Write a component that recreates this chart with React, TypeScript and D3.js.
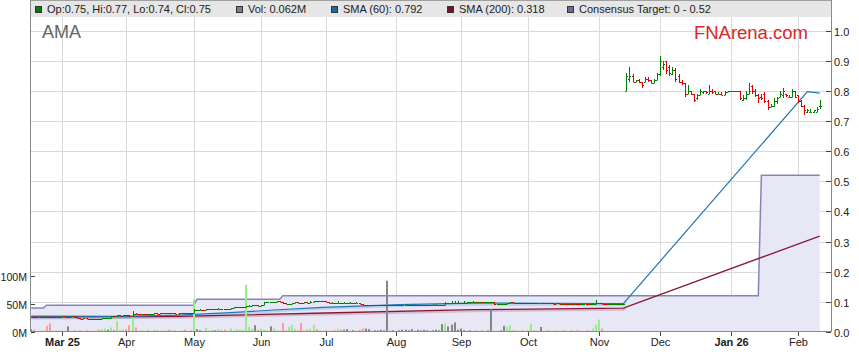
import React from "react";
import * as d3 from "d3";

const START_DATE = "2025-02-17";

// [open, high, low, close] per trading day
const ohlc: [number, number, number, number][] = [
  [.051,.051,.051,.051],[.051,.051,.050,.050],[.050,.051,.050,.051],[.051,.051,.051,.051],[.051,.052,.051,.051],
  [.051,.051,.050,.050],[.050,.050,.049,.049],[.049,.050,.049,.050],[.050,.051,.050,.051],[.051,.051,.051,.051],
  [.051,.052,.051,.052],[.052,.052,.051,.051],[.051,.051,.051,.051],[.051,.052,.051,.052],[.052,.052,.050,.050],
  [.050,.050,.046,.046],[.046,.046,.044,.044],[.044,.045,.044,.045],[.045,.045,.043,.043],[.043,.044,.043,.044],
  [.044,.044,.042,.043],[.043,.044,.043,.044],[.044,.044,.043,.043],[.043,.045,.043,.045],[.045,.047,.045,.047],
  [.047,.048,.046,.047],[.047,.053,.047,.053],[.053,.054,.052,.052],[.052,.055,.052,.055],[.055,.055,.054,.054],
  [.054,.056,.054,.056],[.056,.056,.054,.055],[.055,.055,.054,.054],[.054,.068,.054,.061],[.061,.062,.059,.060],
  [.060,.060,.059,.059],[.059,.060,.059,.060],[.060,.060,.059,.059],[.059,.060,.059,.060],[.060,.060,.060,.060],
  [.060,.063,.060,.062],[.062,.062,.061,.061],[.061,.062,.061,.062],[.062,.062,.062,.062],[.062,.063,.062,.063],
  [.063,.063,.062,.062],[.062,.063,.062,.063],[.063,.063,.061,.061],[.061,.062,.061,.062],[.062,.063,.062,.063],
  [.063,.063,.062,.062],[.062,.063,.062,.063],[.063,.063,.062,.062],[.062,.075,.062,.074],[.074,.074,.073,.074],
  [.074,.075,.074,.074],[.074,.074,.073,.073],[.073,.075,.073,.075],[.075,.075,.075,.075],[.075,.076,.075,.076],
  [.076,.076,.075,.076],[.076,.078,.076,.077],[.077,.077,.076,.076],[.076,.076,.075,.075],[.075,.077,.075,.077],
  [.077,.078,.077,.078],[.078,.082,.078,.082],[.082,.083,.082,.083],[.083,.084,.083,.084],[.084,.084,.082,.082],
  [.082,.087,.082,.086],[.086,.088,.086,.087],[.087,.089,.087,.088],[.088,.088,.088,.088],[.088,.088,.086,.086],
  [.086,.090,.086,.089],[.089,.099,.089,.098],[.098,.100,.098,.100],[.100,.100,.100,.100],[.100,.101,.100,.101],
  [.101,.102,.101,.102],[.102,.102,.101,.101],[.101,.101,.094,.095],[.095,.095,.093,.093],[.093,.094,.093,.094],
  [.094,.097,.094,.097],[.097,.098,.097,.098],[.098,.098,.096,.096],[.096,.096,.095,.095],[.095,.098,.095,.098],
  [.098,.098,.097,.097],[.097,.102,.097,.101],[.101,.103,.101,.103],[.103,.103,.102,.102],[.102,.104,.102,.103],
  [.103,.103,.102,.102],[.102,.102,.100,.100],[.100,.100,.097,.097],[.097,.098,.097,.097],[.097,.097,.096,.096],
  [.096,.102,.096,.097],[.097,.097,.096,.096],[.096,.100,.096,.096],[.096,.096,.096,.096],[.096,.100,.096,.096],
  [.096,.096,.096,.096],[.096,.099,.096,.096],[.096,.096,.092,.092],[.092,.092,.088,.088],[.088,.088,.088,.088],
  [.088,.088,.088,.088],[.088,.088,.088,.088],[.088,.088,.088,.088],[.088,.088,.088,.088],[.088,.088,.088,.088],
  [.088,.088,.088,.088],[.088,.088,.088,.088],[.088,.088,.088,.088],[.088,.088,.088,.088],[.088,.088,.088,.088],
  [.088,.088,.088,.088],[.088,.088,.088,.088],[.088,.092,.088,.088],[.088,.088,.088,.088],[.088,.088,.088,.088],
  [.088,.088,.088,.088],[.088,.088,.088,.088],[.088,.088,.088,.088],[.088,.088,.088,.088],[.088,.088,.088,.088],
  [.088,.088,.088,.088],[.088,.092,.088,.088],[.088,.092,.088,.088],[.088,.088,.088,.088],[.088,.088,.088,.088],
  [.088,.098,.088,.097],[.097,.097,.097,.097],[.097,.104,.097,.097],[.097,.104,.097,.097],[.097,.104,.097,.097],
  [.097,.097,.097,.097],[.097,.104,.097,.097],[.097,.100,.097,.100],[.100,.101,.100,.100],[.100,.102,.100,.101],
  [.101,.101,.100,.100],[.100,.101,.100,.101],[.101,.101,.099,.099],[.099,.100,.099,.100],[.100,.100,.100,.100],
  [.100,.100,.100,.100],[.100,.100,.091,.092],[.092,.094,.092,.094],[.094,.094,.094,.094],[.094,.094,.094,.094],
  [.094,.096,.094,.095],[.095,.098,.095,.098],[.098,.098,.097,.097],[.097,.097,.096,.096],[.096,.097,.096,.096],
  [.096,.096,.095,.095],[.095,.096,.095,.096],[.096,.096,.095,.095],[.095,.097,.095,.096],[.096,.096,.095,.095],
  [.095,.096,.095,.095],[.095,.095,.095,.095],[.095,.096,.095,.096],[.096,.096,.095,.095],[.095,.096,.095,.096],
  [.096,.096,.094,.094],[.094,.095,.094,.095],[.095,.095,.093,.093],[.093,.094,.093,.094],[.094,.094,.092,.092],
  [.092,.093,.092,.093],[.093,.093,.092,.092],[.092,.093,.092,.093],[.093,.093,.092,.092],[.092,.092,.092,.092],
  [.092,.093,.092,.093],[.093,.093,.092,.092],[.092,.093,.092,.093],[.093,.095,.093,.094],[.094,.105,.094,.096],
  [.096,.097,.095,.097],[.097,.097,.093,.093],[.093,.093,.092,.092],[.092,.093,.092,.093],[.093,.093,.093,.093],
  [.093,.093,.093,.093],[.093,.093,.093,.093],[.093,.093,.093,.093],[.093,.093,.093,.093],
  // after the share consolidation
  [.80,.86,.80,.85],[.84,.88,.83,.85],[.85,.857,.83,.83],[.83,.837,.83,.835],[.835,.84,.825,.83],
  [.83,.83,.81,.82],[.83,.845,.83,.84],[.84,.845,.83,.835],[.835,.835,.825,.825],[.825,.84,.825,.835],
  [.835,.86,.835,.855],[.855,.915,.848,.90],[.88,.90,.87,.89],[.90,.90,.857,.87],[.88,.885,.85,.86],
  [.855,.88,.852,.87],[.87,.875,.83,.84],[.85,.857,.825,.83],[.83,.837,.82,.825],[.825,.827,.778,.79],
  [.79,.82,.79,.80],[.80,.80,.785,.79],[.79,.79,.763,.77],[.775,.79,.77,.785],[.785,.805,.785,.80],
  [.795,.80,.79,.80],[.80,.80,.79,.795],[.79,.82,.79,.80],[.80,.805,.79,.795],[.80,.80,.79,.79],
  [.79,.795,.79,.79],[.79,.795,.785,.785],[.785,.80,.785,.795],[.795,.80,.795,.80],[.80,.80,.80,.80],
  [.80,.80,.80,.80],[.80,.80,.80,.80],[.80,.80,.77,.775],[.77,.785,.765,.775],[.775,.80,.77,.79],
  [.79,.825,.79,.80],[.815,.82,.79,.80],[.80,.805,.78,.785],[.785,.79,.76,.775],[.78,.79,.77,.775],
  [.79,.795,.76,.765],[.765,.77,.735,.745],[.745,.757,.745,.75],[.75,.775,.745,.765],[.765,.78,.755,.775],
  [.78,.80,.78,.79],[.785,.81,.775,.80],[.79,.79,.78,.785],[.78,.785,.78,.78],[.78,.805,.78,.80],
  [.80,.80,.775,.78],[.785,.785,.76,.765],[.765,.77,.745,.75],[.75,.752,.72,.735],[.73,.74,.728,.735],
  [.73,.74,.73,.73],[.73,.735,.728,.735],[.73,.745,.73,.74],[.75,.77,.74,.75],
];

// daily volume, millions of shares
const volumeM: number[] = [
  5,4,1,2,2,11,15,2,3,2, 3,2,10,2,3,2,3,2,3,2, 2,3,4,5,6,4,8,4,19,3, 4,5,12,26,8,2,3,2,4,1,
  4,3,2,2,3,4,3,3,2,3, 4,2,3,58,5,3,2,7,2,4, 3,5,3,4,2,6,3,5,4,3, 84,9,6,12,4,6,4,3,10,6,
  3,2,16,3,9,13,5,3,16,3, 4,6,13,5,3,2,3,2,2,3, 6,4,4,5,2,3,2,4,6,6, 5,2,3,3,4,3,91,2,3,1,
  3,4,4,3,5,2,4,3,4,3, 2,3,4,3,14,15,10,13,17,4, 6,3,2,3,2,3,2,3,2,3, 40,2,2,3,11,9,12,3,3,2,
  3,2,3,14,3,2,9,2,3,3, 2,3,2,3,3,2,3,2,3,2, 2,3,2,6,13,22,6,2,2,1, 1,2,1,1,
  1.2,0.8,0.6,0.5,0.4,0.6,0.3,0.5,0.4,0.3, 0.4,0.9,0.5,0.6,0.4,0.3,0.5,0.4,0.3,0.6, 0.4,0.3,0.5,0.3,0.2,0.3,0.2,0.3,0.2,0.3,
  0.2,0.3,0.2,0.2,0.1,0.2,0.3,0.5,0.3,0.2, 0.3,0.4,0.3,0.2,0.3,0.2,0.3,0.2,0.2,0.3, 0.2,0.3,0.2,0.4,0.2,0.3,0.2,0.2,0.1,0.2,
  0.1,0.2,0.1,0.062,
];

// [trading-day index, value]
const sma60Pts: [number, number][] = [
  [0,.053],[30,.052],[48,.056],[65,.064],[79,.073],[95,.082],[120,.091],[144,.096],[169,.095],[193,.094],[253,.797],[257,.792],
];
const sma200Pts: [number, number][] = [
  [0,.050],[48,.052],[96,.063],[144,.074],[193,.079],[257,.318],
];
// consensus target: [first trading-day index, target]
const targetSteps: [number, number][] = [
  [0,.080],[5,.089],[54,.109],[82,.120],[238,.52],
];

const monthLabels = ["Mar 25","Apr","May","Jun","Jul","Aug","Sep","Oct","Nov","Dec","Jan 26","Feb"];
const priceTicks = [0,0.1,0.2,0.3,0.4,0.5,0.6,0.7,0.8,0.9,1.0];
const volTicks = [0,50,100];

const FONT = "'Liberation Sans', Arial, Helvetica, sans-serif";
const C_UP = "#008000", C_DN = "#e00000";
const C_SMA60 = "#1f77b4", C_SMA200 = "#8b1538";
const C_TGT_LINE = "#8585b5", C_TGT_FILL = "#e7e7f6";

function weekdays(start: string, n: number): Date[] {
  const out: Date[] = [];
  const d = new Date(start + "T00:00:00Z");
  while (out.length < n) {
    const wd = d.getUTCDay();
    if (wd !== 0 && wd !== 6) out.push(new Date(d.getTime()));
    d.setUTCDate(d.getUTCDate() + 1);
  }
  return out;
}

export default function App() {
  const W = 859, H = 363;
  const left = 31, right = 831, top = 17, bottom = 332;
  const n = ohlc.length;
  const dates = weekdays(START_DATE, n);

  const x = d3.scaleLinear().domain([0, 260.7]).range([31.3, 831]);
  const yP = d3.scaleLinear().domain([0, 1]).range([332, 30.5]);
  const yV = d3.scaleLinear().domain([0, 100]).range([332, 275.7]);

  const monthIdx: number[] = [];
  for (let i = 1; i < n; i++) if (dates[i].getUTCMonth() !== dates[i - 1].getUTCMonth()) monthIdx.push(i);

  const target = d3.range(n).map((i) => {
    let v = targetSteps[0][1];
    for (const [s, t] of targetSteps) if (i >= s) v = t;
    return [i, v] as [number, number];
  });

  const line = d3.line<[number, number]>().x((d) => x(d[0])).y((d) => yP(d[1]));
  const area = d3.area<[number, number]>().x((d) => x(d[0])).y0(yP(0)).y1((d) => yP(d[1]));

  const volColor = (i: number) => {
    const prev = i === 0 ? ohlc[0][0] : ohlc[i - 1][3];
    const c = ohlc[i][3];
    return c > prev ? "#95ee8a" : c < prev ? "#ff9a9a" : "#868686";
  };

  const last = ohlc[n - 1];
  const f2 = (v: number) => v.toFixed(2);
  const legend = [
    { color: C_UP, text: `Op:${f2(last[0])}, Hi:${f2(last[1])}, Lo:${f2(last[2])}, Cl:${f2(last[3])}` },
    { color: "#808080", text: `Vol: ${volumeM[n - 1].toFixed(3)}M` },
    { color: "#1a6aa8", text: `SMA (60): ${sma60Pts[sma60Pts.length - 1][1].toFixed(3)}` },
    { color: "#7a0f2e", text: `SMA (200): ${sma200Pts[sma200Pts.length - 1][1].toFixed(3)}` },
    { color: "#6a6a9c", text: `Consensus Target: 0 - ${d3.max(targetSteps, (d) => d[1])}` },
  ];
  const legendX = [35, 236, 331, 447, 567];

  const px = (i: number) => Math.round(x(i)) + 0.5;
  const py = (v: number) => Math.round(yP(v)) + 0.5;

  return (
    <svg width={W} height={H} style={{ position: "absolute", left: 0, top: 0, background: "#fff" }} fontFamily={FONT}>
      <defs>
        <clipPath id="lowBand">
          <rect x={left} y={290} width={x(194) - left} height={bottom - 290} />
        </clipPath>
      </defs>
      {/* legend band */}
      <rect x={left} y={0} width={right - left} height={top} fill="#e6e6e6" />
      <line x1={left} x2={right} y1={0.5} y2={0.5} stroke="#a0a0a0" />
      {legend.map((d, k) => (
        <g key={k}>
          <rect x={legendX[k] + 0.5} y={6.5} width={6} height={6} fill={d.color} stroke="#333" strokeWidth={1} />
          <text x={legendX[k] + 12} y={13} fontSize={11} fill="#222">{d.text}</text>
        </g>
      ))}

      {/* grid */}
      {priceTicks.slice(1).map((t) => (
        <line key={t} x1={left} x2={right} y1={Math.round(yP(t)) + 0.5} y2={Math.round(yP(t)) + 0.5} stroke="#d9d9d9" />
      ))}
      {monthIdx.map((i) => (
        <line key={i} x1={px(i)} x2={px(i)} y1={top} y2={bottom} stroke="#d9d9d9" />
      ))}

      {/* consensus target */}
      <path d={area(target) || ""} fill={C_TGT_FILL} />
      <path d={line(target) || ""} fill="none" stroke={C_TGT_LINE} strokeWidth={1.5} />

      {/* moving averages (soft shadow only in the low band) */}
      <g clipPath="url(#lowBand)">
        <path d={line(sma200Pts) || ""} fill="none" stroke={C_SMA200} strokeOpacity={0.2} strokeWidth={2} transform="translate(0,1.5)" />
        <path d={line(sma60Pts) || ""} fill="none" stroke={C_SMA60} strokeOpacity={0.2} strokeWidth={2} transform="translate(0,1.5)" />
      </g>
      <path d={line(sma200Pts) || ""} fill="none" stroke={C_SMA200} strokeWidth={1.3} />
      <path d={line(sma60Pts) || ""} fill="none" stroke={C_SMA60} strokeWidth={1.2} />

      {/* volume */}
      {volumeM.map((v, i) => {
        const y0 = yV(0), y1 = yV(v);
        return <rect key={i} x={Math.round(x(i)) - 1} y={y1} width={2} height={Math.max(0, y0 - y1)} fill={volColor(i)} />;
      })}

      {/* OHLC bars */}
      {ohlc.map(([o, h, l, c], i) => {
        const cx = px(i);
        const col = c >= o ? C_UP : C_DN;
        const yh = Math.round(yP(h)), yl = Math.round(yP(l));
        return (
          <g key={i} stroke={col} strokeWidth={1}>
            <line x1={cx} x2={cx} y1={yh} y2={Math.max(yl, yh + 1)} />
            <line x1={cx - 1.5} x2={cx} y1={py(o)} y2={py(o)} />
            <line x1={cx} x2={cx + 1.5} y1={py(c)} y2={py(c)} />
          </g>
        );
      })}

      {/* axes */}
      <line x1={30.5} x2={30.5} y1={0} y2={bottom} stroke="#8a8a8a" />
      <line x1={831.5} x2={831.5} y1={0} y2={bottom} stroke="#8a8a8a" />
      <line x1={30} x2={832} y1={331.5} y2={331.5} stroke="#8a8a8a" />

      {priceTicks.map((t) => {
        const y = Math.round(yP(t)) + 0.5;
        return (
          <g key={t}>
            <line x1={826} x2={831} y1={y} y2={y} stroke="#444" />
            <text x={834} y={y + 4} fontSize={11} fill="#222">{t.toFixed(1)}</text>
          </g>
        );
      })}
      {volTicks.map((t) => {
        const y = Math.round(yV(t)) + 0.5;
        return (
          <g key={t}>
            <line x1={31} x2={35} y1={y} y2={y} stroke="#444" />
            <text x={27} y={y + 4} fontSize={10.6} fill="#222" textAnchor="end">{t}M</text>
          </g>
        );
      })}
      {monthIdx.map((i, k) => (
        <g key={i}>
          <line x1={px(i)} x2={px(i)} y1={332} y2={336} stroke="#444" />
          <text x={px(i)} y={346} fontSize={11} fill="#222" textAnchor="middle"
            fontWeight={monthLabels[k].includes(" ") ? "bold" : "normal"}>{monthLabels[k]}</text>
        </g>
      ))}

      {/* titles */}
      <text x={42} y={38} fontSize={18} fill="#666">AMA</text>
      <text x={808} y={39} fontSize={18.5} fill="#d42a2a" textAnchor="end">FNArena.com</text>
    </svg>
  );
}
